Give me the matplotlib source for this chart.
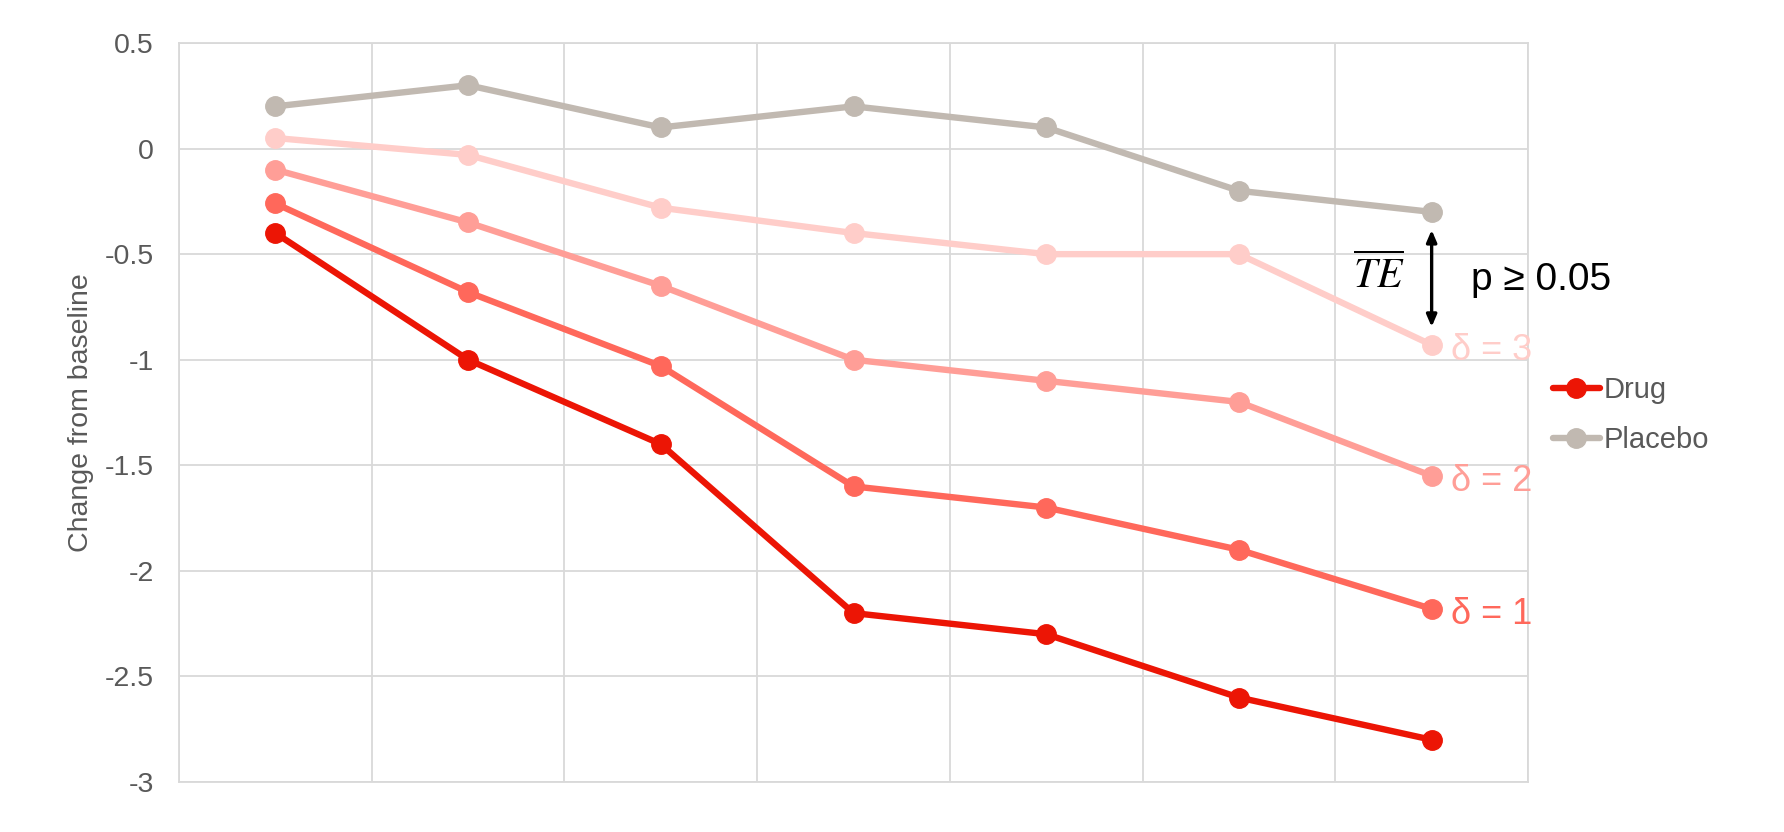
import numpy as np
import matplotlib
matplotlib.use("Agg")
import matplotlib.pyplot as plt
from matplotlib.lines import Line2D

plt.rcParams['font.family'] = ['Liberation Sans', 'DejaVu Sans']
plt.rcParams['mathtext.fontset'] = 'stix'

# data (7 visits, no x labels)
visits = ['', '', '', '', '', '', '']
placebo = [0.20, 0.30, 0.10, 0.20, 0.10, -0.20, -0.30]
drug = [-0.40, -1.00, -1.40, -2.20, -2.30, -2.60, -2.80]
delta1 = [-0.26, -0.68, -1.03, -1.60, -1.70, -1.90, -2.18]
delta2 = [-0.10, -0.35, -0.65, -1.00, -1.10, -1.20, -1.55]
delta3 = [0.05, -0.03, -0.28, -0.40, -0.50, -0.50, -0.93]

delta_labels = ['\u03b4 = 1', '\u03b4 = 2', '\u03b4 = 3']

C_DRUG = '#EC1505'
C_D1 = '#FF685B'
C_D2 = '#FF9E97'
C_D3 = '#FFCDC9'
C_PLAC = '#C1B9B1'
TXT = '#595959'
GRID = '#D9D9D9'

fig = plt.figure(figsize=(17.84, 8.32), dpi=100)
ax = fig.add_axes([179 / 1784, 1 - 782 / 832, (1528 - 179) / 1784, (782 - 43) / 832])

x = np.arange(len(visits))
style = dict(lw=4.6, marker='o', markersize=14, solid_capstyle='round')

ax.plot(x, placebo, color=C_PLAC, zorder=3, **style)
ax.plot(x, delta3, color=C_D3, zorder=3, **style)
ax.plot(x, delta2, color=C_D2, zorder=3, **style)
ax.plot(x, delta1, color=C_D1, zorder=3, **style)
ax.plot(x, drug, color=C_DRUG, zorder=4, **style)

# delta labels at the last point of each sensitivity line
for vals, lab, col in zip([delta1, delta2, delta3], delta_labels, [C_D1, C_D2, C_D3]):
    ax.annotate(lab, (x[-1], vals[-1]), xytext=(14, -4), textcoords='offset points',
                ha='left', va='center', fontsize=26, color=col, annotation_clip=False)

# treatment effect arrow between placebo and delta=3
ax.annotate('', xy=(x[-1], placebo[-1]), xytext=(x[-1], delta3[-1]),
            arrowprops=dict(arrowstyle='<|-|>,head_length=0.7,head_width=0.3',
                            color='black', lw=2.4, shrinkA=13, shrinkB=13))
mid = (placebo[-1] + delta3[-1]) / 2
ax.annotate(r'$\overline{TE}$', (x[-1], mid), xytext=(-38, 2), textcoords='offset points',
            ha='center', va='center', fontsize=30, color='black')
ax.annotate('p \u2265 0.05', (x[-1], mid), xytext=(28, -1), textcoords='offset points',
            ha='left', va='center', fontsize=28, color='black', annotation_clip=False)

ax.set_xlim(-0.5, len(visits) - 0.5)
ax.set_ylim(-3, 0.5)
ax.set_yticks(np.arange(-3, 0.51, 0.5))
ax.set_yticklabels(['-3', '-2.5', '-2', '-1.5', '-1', '-0.5', '0', '0.5'])
ax.set_xticks(np.arange(len(visits) + 1) - 0.5)
ax.set_xticklabels([])
ax.tick_params(length=0, labelsize=20.5, labelcolor=TXT, pad=18)
ax.grid(True, color=GRID, lw=1.3)
ax.set_axisbelow(True)
for s in ax.spines.values():
    s.set_color(GRID)
    s.set_linewidth(1.3)

ax.set_ylabel('Change from baseline', fontsize=20.5, color=TXT, labelpad=8)

# legend to the right of the plot area
handles = [Line2D([], [], color=C_DRUG, **style), Line2D([], [], color=C_PLAC, **style)]
fig.legend(handles, ['Drug', 'Placebo'], loc='upper left',
           bbox_to_anchor=(1553 / 1784, 1 - 376 / 832), frameon=False,
           fontsize=21, handlelength=1.6, handletextpad=0.15, labelspacing=0.75,
           borderpad=0, borderaxespad=0, numpoints=1, labelcolor=TXT)

fig.savefig('out.png', dpi=100)
